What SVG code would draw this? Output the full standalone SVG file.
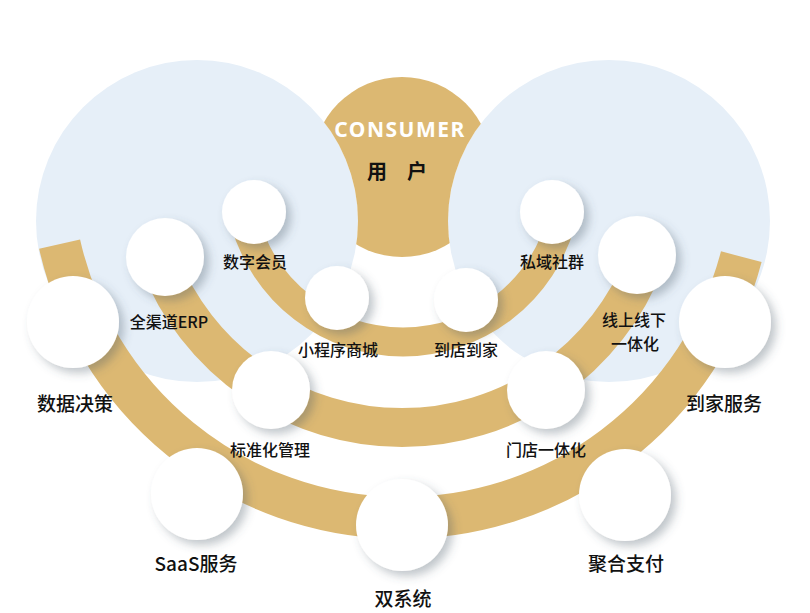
<svg xmlns="http://www.w3.org/2000/svg" width="810" height="613" viewBox="0 0 810 613">
<defs>
<style>
.zone{fill:#E6EFF8}
.band{fill:none;stroke:#DCB872;stroke-linecap:butt}
.node{fill:#FFFFFF;filter:url(#sh)}
.lbl{font-family:"Noto Sans CJK SC","Noto Sans",sans-serif;font-size:16px;font-weight:500;fill:#111111;text-anchor:middle}
.big{font-size:19px}
</style>
<filter id="sh" x="-40%" y="-40%" width="190%" height="190%">
<feDropShadow dx="5" dy="5" stdDeviation="5" flood-color="#4a5868" flood-opacity="0.35"/>
</filter>
<mask id="cmask">
<rect width="810" height="613" fill="#fff"/>
<circle cx="197" cy="221" r="161" fill="#000"/>
<circle cx="609" cy="221" r="161" fill="#000"/>
</mask>
</defs>
<rect width="810" height="613" fill="#FFFFFF"/>
<g id="zones">
<circle class="zone" cx="197" cy="221" r="161"/>
<circle class="zone" cx="609" cy="221" r="161"/>
</g>
<g id="consumer">
<circle cx="402" cy="167" r="90" fill="#DCB872" mask="url(#cmask)"/>
<text x="400" y="137" font-family="'Noto Sans','Open Sans',sans-serif" font-size="21" font-weight="bold" fill="#FFFFFF" text-anchor="middle" letter-spacing="1.5">CONSUMER</text>
<text x="367" y="179" font-family="'Noto Sans CJK SC',sans-serif" font-size="20" font-weight="bold" fill="#111111" letter-spacing="20">用户</text>
</g>
<g id="connectors">
<path class="band" stroke-width="42" d="M59.6,244.2 A351,351 0 0 0 741.3,256.7"/>
<path class="band" stroke-width="39" d="M158.8,260.4 A260.5,260.5 0 0 0 645.2,260.4"/>
<path class="band" stroke-width="29" d="M244.6,220.4 A164,164 0 0 0 561.4,220.4"/>
</g>
<g id="n-shuzihuiyuan"><circle class="node" cx="254" cy="212" r="32"/><text class="lbl" x="255" y="268">数字会员</text></g>
<g id="n-siyushequn"><circle class="node" cx="552" cy="212" r="32"/><text class="lbl" x="552" y="268">私域社群</text></g>
<g id="n-xiaochengxu"><circle class="node" cx="337" cy="298" r="32"/><text class="lbl" x="338" y="356">小程序商城</text></g>
<g id="n-daodiandaojia"><circle class="node" cx="466" cy="300" r="32"/><text class="lbl" x="466" y="356">到店到家</text></g>
<g id="n-erp"><circle class="node" cx="165" cy="257" r="39"/><text class="lbl" x="169" y="328">全渠道ERP</text></g>
<g id="n-xianshang"><circle class="node" cx="637" cy="255" r="39"/><text class="lbl" x="634" y="326">线上线下</text><text class="lbl" x="635" y="350">一体化</text></g>
<g id="n-biaozhunhua"><circle class="node" cx="271" cy="390" r="39"/><text class="lbl" x="270" y="456">标准化管理</text></g>
<g id="n-mendian"><circle class="node" cx="546" cy="390" r="39"/><text class="lbl" x="546" y="456">门店一体化</text></g>
<g id="n-shuju"><circle class="node" cx="73" cy="322" r="46"/><text class="lbl big" x="75" y="411">数据决策</text></g>
<g id="n-daojiafuwu"><circle class="node" cx="725" cy="322" r="46"/><text class="lbl big" x="724" y="411">到家服务</text></g>
<g id="n-saas"><circle class="node" cx="197" cy="494" r="46"/><text class="lbl big" x="196" y="571">SaaS服务</text></g>
<g id="n-shuangxitong"><circle class="node" cx="402" cy="525" r="46"/><text class="lbl big" x="403" y="606">双系统</text></g>
<g id="n-juhe"><circle class="node" cx="625" cy="495" r="46"/><text class="lbl big" x="626" y="571">聚合支付</text></g>
</svg>
